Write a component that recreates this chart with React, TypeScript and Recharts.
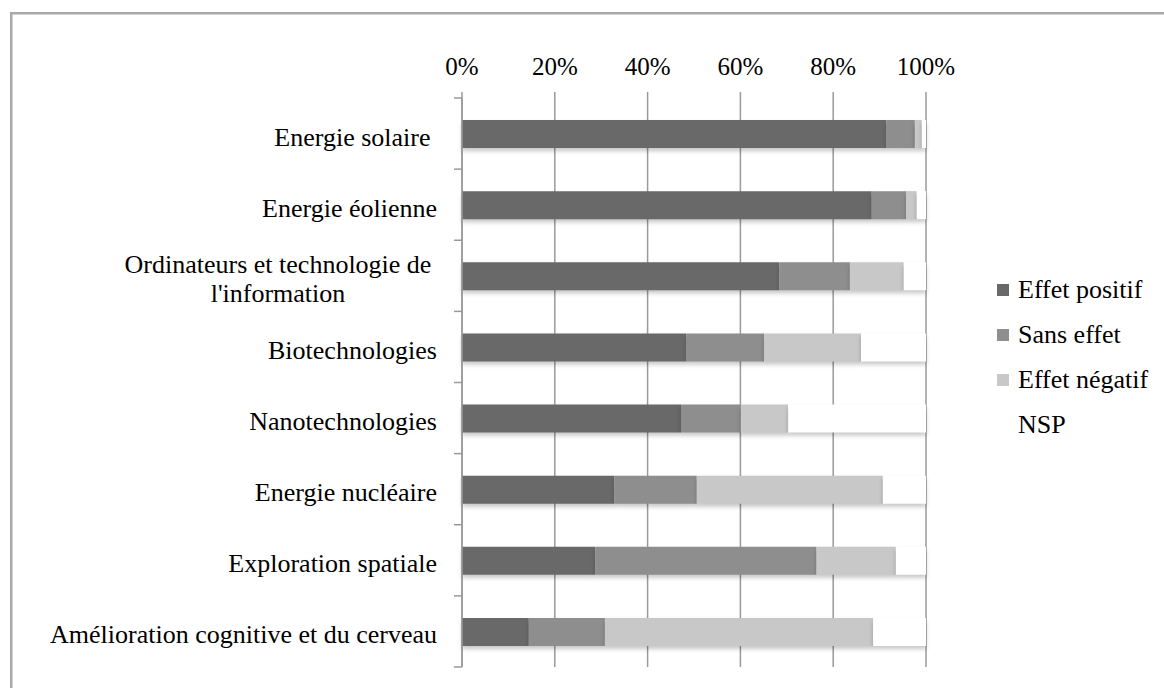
import { BarChart, Bar, XAxis, YAxis, CartesianGrid } from "recharts";

const CATEGORIES = [
  "Energie solaire ",
  "Energie éolienne",
  "Ordinateurs et technologie de \nl'information",
  "Biotechnologies",
  "Nanotechnologies",
  "Energie nucléaire",
  "Exploration spatiale",
  "Amélioration cognitive et du cerveau",
];

const POSITIF = [91.5, 88.3, 68.4, 48.4, 47.2, 32.8, 28.7, 14.4];
const SANS_EFFET = [6.1, 7.4, 15.2, 16.7, 12.9, 17.8, 47.7, 16.4];
const NEGATIF = [1.5, 2.3, 11.6, 20.9, 10.2, 40.1, 17.1, 57.8];
const NSP = [0.9, 2.0, 4.8, 14.0, 29.7, 9.3, 6.5, 11.4];

const X_TICKS = [0, 20, 40, 60, 80, 100];

const SERIES = [
  { key: "positif", label: "Effet positif", color: "#696969" },
  { key: "sans", label: "Sans effet", color: "#8e8e8e" },
  { key: "negatif", label: "Effet négatif", color: "#c8c8c8" },
  { key: "nsp", label: "NSP", color: "#ffffff" },
] as const;

const data = CATEGORIES.map((name, i) => ({
  name,
  positif: POSITIF[i],
  sans: SANS_EFFET[i],
  negatif: NEGATIF[i],
  nsp: NSP[i],
}));

const FONT = "'Liberation Serif', 'Times New Roman', serif";
const GRID = "#9a9a9a";
const PLOT_TOP = 98;
const PLOT_BOTTOM = 667;
const BAND = (PLOT_BOTTOM - PLOT_TOP) / CATEGORIES.length;

function CategoryTick(props: any) {
  const { x, y, payload, index } = props;
  const lines: string[] = String(payload.value).split("\n");
  return (
    <g>
      {index === 0 && <line x1={x - 8} x2={x} y1={y - BAND / 2} y2={y - BAND / 2} stroke={GRID} strokeWidth={1.5} />}
      <line x1={x - 8} x2={x} y1={y + BAND / 2} y2={y + BAND / 2} stroke={GRID} strokeWidth={1.5} />
      {lines.length === 1 ? (
        <text x={x - 25} y={y + 12} textAnchor="end" fontSize={26} fontFamily={FONT} fill="#000" style={{ whiteSpace: "pre" }}>
          {lines[0]}
        </text>
      ) : (
        lines.map((l, k) => (
          <text key={k} x={x - 184} y={y - 3 + k * 29} textAnchor="middle" fontSize={26} fontFamily={FONT} fill="#000">
            {l.trim()}
          </text>
        ))
      )}
    </g>
  );
}

export default function App() {
  return (
    <div style={{ position: "absolute", left: 0, top: 0, width: 1164, height: 688, background: "#fff", overflow: "hidden" }}>
      <style>{`.recharts-bar-rectangle path { filter: drop-shadow(0 3px 2px rgba(0,0,0,0.22)); }`}</style>
      <div
        style={{
          position: "absolute",
          left: 10,
          top: 12,
          width: 1200,
          height: 720,
          borderTop: "2px solid #a8a8a8",
          borderLeft: "2px solid #a8a8a8",
          boxShadow: "inset 1px 1px 0 #d4d4d4",
        }}
      />
      <div style={{ position: "absolute", left: 0, top: 0 }}>
        <BarChart
          width={1164}
          height={688}
          data={data}
          layout="vertical"
          barSize={28}
          margin={{ top: PLOT_TOP - 60, right: 238, bottom: 688 - PLOT_BOTTOM, left: 22 }}
          style={{ fontFamily: FONT }}
        >
          <CartesianGrid horizontal={false} stroke={GRID} strokeWidth={1.5} />
          <XAxis
            type="number"
            orientation="top"
            domain={[0, 100]}
            ticks={X_TICKS}
            tickFormatter={(v: number) => `${v}%`}
            axisLine={false}
            tickLine={{ stroke: GRID, strokeWidth: 1.5 }}
            tickSize={6}
            tickMargin={17}
            height={60}
            tick={{ fill: "#000", fontSize: 25, fontFamily: FONT }}
          />
          <YAxis
            type="category"
            dataKey="name"
            width={440}
            axisLine={{ stroke: GRID, strokeWidth: 1.5 }}
            tickLine={false}
            tickSize={0}
            tickMargin={0}
            interval={0}
            tick={<CategoryTick />}
          />
          {SERIES.map((s) => (
            <Bar key={s.key} dataKey={s.key} name={s.label} stackId="a" fill={s.color} isAnimationActive={false} />
          ))}
        </BarChart>
      </div>
      <div style={{ position: "absolute", left: 997, top: 267, fontFamily: FONT, fontSize: 26, color: "#000" }}>
        {SERIES.map((s) => (
          <div key={s.key} style={{ display: "flex", alignItems: "center", height: 45, lineHeight: "45px" }}>
            <span style={{ width: 12, height: 12, background: s.color, marginRight: 9, display: "inline-block" }} />
            <span>{s.label}</span>
          </div>
        ))}
      </div>
    </div>
  );
}
